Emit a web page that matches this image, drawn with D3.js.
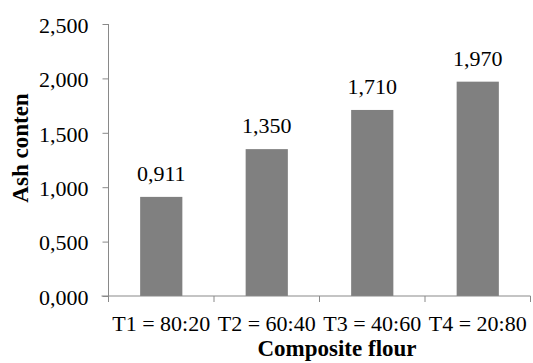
<!DOCTYPE html>
<html><head><meta charset="utf-8">
<script src="https://cdn.jsdelivr.net/npm/d3@7"></script>
<style>body{margin:0;background:#fff}svg{display:block}text{font-family:"Liberation Serif","Times New Roman",serif;fill:#000}</style>
</head><body><svg id="c" width="533" height="363"></svg>
<script>
const categories = ["T1 = 80:20","T2 = 60:40","T3 = 40:60","T4 = 20:80"];
const values = [0.911, 1.350, 1.710, 1.970];
const yTicks = [0, 0.5, 1.0, 1.5, 2.0, 2.5];
const xTitle = "Composite flour";
const yTitle = "Ash conten";

const svg = d3.select("#c");
const L = 108.5, R = 530.5, T = 24, B = 296;
const fmt = v => d3.format(".3f")(v).replace(".", ",");
const x = d3.scaleBand().domain(categories).range([L, R]).paddingInner(0.6).paddingOuter(0.3);
const xs = d3.scaleBand().domain(categories).range([L, R]);
const y = d3.scaleLinear().domain([0, 2.5]).range([B, T]);

svg.selectAll("rect.bar").data(values).join("rect")
  .attr("x", (d,i)=>x(categories[i])).attr("width", x.bandwidth())
  .attr("y", d=>y(d)).attr("height", d=>B-y(d)).attr("fill", "#808080");

// y axis
const ya = svg.append("g").attr("transform", `translate(${L},0)`)
  .call(d3.axisLeft(y).tickValues(yTicks).tickSize(6).tickPadding(14).tickFormat(fmt));
ya.attr("font-family", null).attr("font-size", null);
ya.select(".domain").attr("stroke", "#898989").attr("d", `M0,${T}V${B}`);
ya.selectAll(".tick line").attr("stroke", "#898989");
ya.selectAll(".tick text").attr("font-size", 22).attr("fill","#000").attr("dy","0.38em");

// x axis
const xa = svg.append("g").attr("transform", `translate(0,${B})`);
xa.append("line").attr("x1", L-7).attr("x2", R).attr("y1", 0).attr("y2", 0).attr("stroke", "#898989");
xa.selectAll("line.t").data(categories.concat(["end"])).join("line")
  .attr("x1", (d,i)=> i<4 ? xs(d) : R).attr("x2", (d,i)=> i<4 ? xs(d) : R)
  .attr("y1", 0).attr("y2", 6).attr("stroke", "#898989");
xa.selectAll("text.cat").data(categories).join("text")
  .attr("x", d=>xs(d)+xs.bandwidth()/2).attr("y", 35).attr("text-anchor","middle")
  .attr("font-size", 22).text(d=>d);

// value labels
svg.selectAll("text.val").data(values).join("text")
  .attr("x", (d,i)=>x(categories[i])+x.bandwidth()/2).attr("y", d=>y(d)-16)
  .attr("text-anchor","middle").attr("font-size", 22).text(fmt);

svg.append("text").attr("x", 337).attr("y", 356).attr("text-anchor","middle")
  .attr("font-size", 23).attr("font-weight","bold").text(xTitle);
svg.append("text").attr("transform", "translate(28,148) rotate(-90)").attr("text-anchor","middle")
  .attr("font-size", 23).attr("font-weight","bold").text(yTitle);
</script></body></html>
